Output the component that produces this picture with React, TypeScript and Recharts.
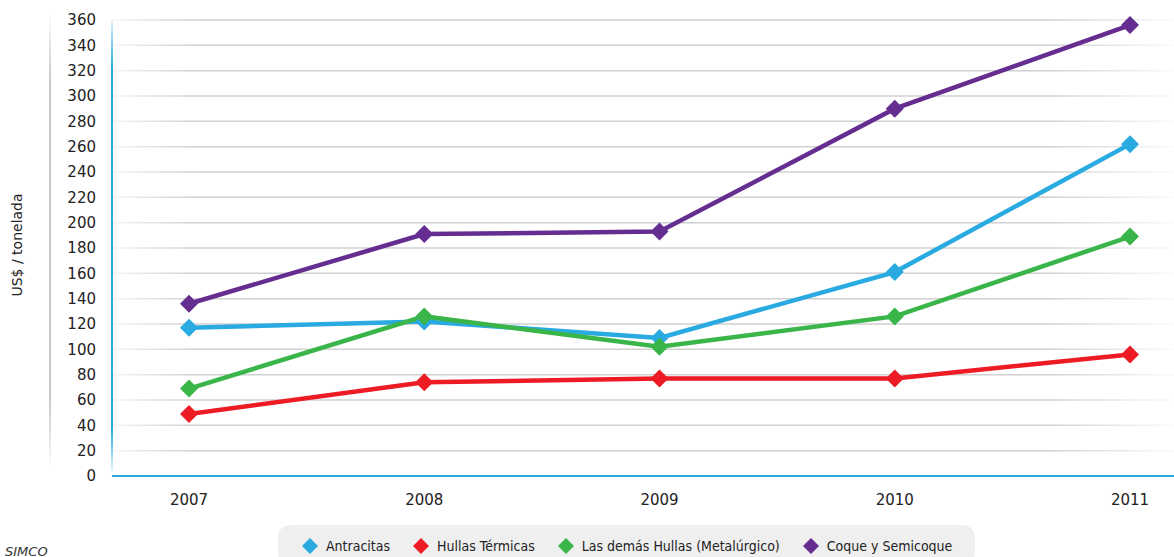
import React from 'react';
import { LineChart, Line, XAxis, YAxis, CartesianGrid, Customized, Label } from 'recharts';

const years = ['2007', '2008', '2009', '2010', '2011'];
const antracitas = [117, 122, 109, 161, 262];
const hullasTermicas = [49, 74, 77, 77, 96];
const demasHullas = [69, 126, 102, 126, 189];
const coque = [136, 191, 193, 290, 356];
const yTicks = [0, 20, 40, 60, 80, 100, 120, 140, 160, 180, 200, 220, 240, 260, 280, 300, 320, 340, 360];

const SERIES = [
  { key: 'antracitas', name: 'Antracitas', color: '#29aae1' },
  { key: 'hullasTermicas', name: 'Hullas Térmicas', color: '#ed1c24' },
  { key: 'demasHullas', name: 'Las demás Hullas (Metalúrgico)', color: '#3ab54a' },
  { key: 'coque', name: 'Coque y Semicoque', color: '#662d91' },
];

const data = years.map((year, i) => ({
  year,
  antracitas: antracitas[i],
  hullasTermicas: hullasTermicas[i],
  demasHullas: demasHullas[i],
  coque: coque[i],
}));

const FONT = '"DejaVu Sans", sans-serif';

const Diamond = (props: any) => {
  const { cx, cy, stroke } = props;
  if (cx == null || cy == null) return null;
  const r = 9;
  return <path d={`M${cx},${cy - r}L${cx + r},${cy}L${cx},${cy + r}L${cx - r},${cy}Z`} fill={stroke} />;
};

const LegendBox = () => (
  <div
    style={{
      position: 'absolute',
      left: 278,
      top: 525,
      width: 697,
      height: 40,
      background: '#efefef',
      borderRadius: 12,
      display: 'flex',
      alignItems: 'flex-start',
      paddingLeft: 23,
      paddingTop: 12,
      fontFamily: '"Liberation Sans Narrow", "DejaVu Sans Condensed", sans-serif',
      fontSize: 14,
      lineHeight: '18px',
      color: '#222',
      boxSizing: 'border-box',
      whiteSpace: 'nowrap',
    }}
  >
    {SERIES.map((s) => (
      <div key={s.key} style={{ display: 'flex', alignItems: 'center', marginRight: 22 }}>
        <svg width={18} height={18} style={{ marginRight: 7 }}>
          <path d="M9,1L17,9L9,17L1,9Z" fill={s.color} />
        </svg>
        <span>{s.name}</span>
      </div>
    ))}
  </div>
);

const Extras = () => (
  <g>
    <line x1={50} y1={12} x2={50} y2={470} stroke="url(#vFadeGray)" strokeWidth={2} />
    <text x={5} y={556} fontFamily={FONT} fontStyle="italic" fontSize={13} fill="#333">
      SIMCO
    </text>
  </g>
);

export default function App() {
  return (
    <div style={{ position: 'absolute', left: 0, top: 0, width: 1174, height: 557, overflow: 'hidden', background: '#fff' }}>
      <LineChart width={1174} height={557} data={data} margin={{ top: 20, right: 0, left: 0, bottom: 51 }}>
        <defs>
          <linearGradient id="gridFade" gradientUnits="userSpaceOnUse" x1={112} y1={0} x2={1174} y2={0}>
            <stop offset="0" stopColor="#d0d0d0" stopOpacity={0.2} />
            <stop offset="0.08" stopColor="#d0d0d0" stopOpacity={1} />
            <stop offset="0.88" stopColor="#d0d0d0" stopOpacity={1} />
            <stop offset="1" stopColor="#d0d0d0" stopOpacity={0.1} />
          </linearGradient>
          <linearGradient id="vFadeGray" gradientUnits="userSpaceOnUse" x1={0} y1={12} x2={0} y2={470}>
            <stop offset="0" stopColor="#c8c8c8" stopOpacity={0} />
            <stop offset="0.15" stopColor="#c8c8c8" stopOpacity={1} />
            <stop offset="0.85" stopColor="#c8c8c8" stopOpacity={1} />
            <stop offset="1" stopColor="#c8c8c8" stopOpacity={0} />
          </linearGradient>
          <linearGradient id="vFadeBlue" gradientUnits="userSpaceOnUse" x1={0} y1={12} x2={0} y2={476}>
            <stop offset="0" stopColor="#29aae1" stopOpacity={0} />
            <stop offset="0.12" stopColor="#29aae1" stopOpacity={1} />
            <stop offset="0.9" stopColor="#29aae1" stopOpacity={1} />
            <stop offset="1" stopColor="#29aae1" stopOpacity={0} />
          </linearGradient>
        </defs>
        <CartesianGrid vertical={false} stroke="url(#gridFade)" strokeWidth={1.5} horizontalValues={yTicks.filter((t) => t > 0)} />
        <XAxis
          dataKey="year"
          padding={{ left: 77, right: 44 }}
          axisLine={{ stroke: '#29aae1', strokeWidth: 2 }}
          tickLine={false}
          tickMargin={12}
          height={30}
          tick={{ fontFamily: FONT, fontSize: 15, fill: '#222' }}
        />
        <YAxis
          domain={[0, 360]}
          ticks={yTicks}
          interval={0}
          width={112}
          axisLine={{ stroke: 'url(#vFadeBlue)', strokeWidth: 2 }}
          tickLine={false}
          tickMargin={10}
          tick={{ fontFamily: FONT, fontSize: 15, fill: '#222' }}
        >
          <Label
            content={() => (
              <text
                x={22}
                y={245}
                transform="rotate(-90 22 245)"
                textAnchor="middle"
                fontFamily={FONT}
                fontSize={14}
                fill="#222"
              >
                US$ / tonelada
              </text>
            )}
          />
        </YAxis>
        {SERIES.map((s) => (
          <Line
            key={s.key}
            dataKey={s.key}
            name={s.name}
            stroke={s.color}
            strokeWidth={4.5}
            dot={<Diamond />}
            activeDot={false}
            isAnimationActive={false}
          />
        ))}
        <Customized component={<Extras />} />
      </LineChart>
      <LegendBox />
    </div>
  );
}
